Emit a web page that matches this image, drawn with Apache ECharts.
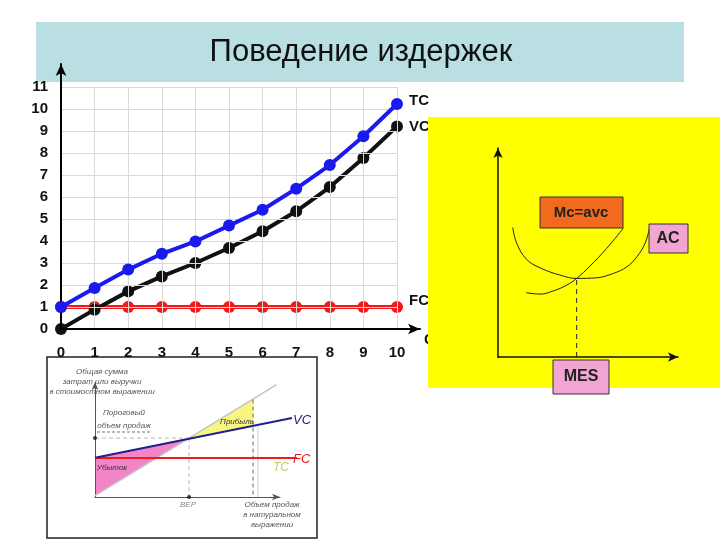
<!DOCTYPE html>
<html>
<head>
<meta charset="utf-8">
<script src="https://cdn.jsdelivr.net/npm/echarts@6/dist/echarts.min.js"></script>
<style>
  html, body { margin: 0; padding: 0; background: #fff; }
  #chart { width: 720px; height: 540px; }
</style>
</head>
<body>
<div id="chart"></div>
<script>
// основной график: объём выпуска и издержки
var qty = [0, 1, 2, 3, 4, 5, 6, 7, 8, 9, 10];
var tcValues = [1, 1.86, 2.7, 3.42, 3.98, 4.7, 5.42, 6.38, 7.45, 8.76, 10.23];
var vcValues = [0, 0.88, 1.71, 2.39, 3.0, 3.68, 4.44, 5.35, 6.45, 7.77, 9.21];
var fcValues = [1, 1, 1, 1, 1, 1, 1, 1, 1, 1, 1];

// кривые AC и MC (жёлтая вставка)
var acCurve = [[0.82, 6.19], [1.04, 5.44], [1.59, 4.67], [2.33, 4.27], [3.44, 3.92], [4.37, 3.76],
  [5.48, 3.79], [6.41, 4.0], [7.15, 4.31], [7.71, 4.79], [8.17, 5.44], [8.41, 6.15]];
var mcCurve = [[1.56, 3.08], [2.33, 3.01], [3.07, 3.16], [3.82, 3.44], [4.37, 3.76],
  [5.11, 4.35], [6.04, 5.2], [6.96, 6.16]];
var mesLine = [[4.37, 0], [4.37, 3.76]];

// точка безубыточности (нижняя вставка)
var bepTc = [[0, 0.11], [8.86, 9.6]];
var bepVc = [[0, 3.35], [9.61, 6.75]];
var bepFc = [[0, 3.33], [9.85, 3.33]];
var lossArea = [[0, 3.35], [0, 0.11], [4.59, 5.04]];
var profitArea = [[4.59, 5.04], [7.71, 8.33], [7.71, 6.09]];
var bepHoriz = [[0, 5.04], [4.59, 5.04]];
var bepVert = [[4.59, 5.04], [4.59, 0]];
var salesVert = [[7.71, 8.33], [7.71, 0]];
var salesVert2 = [[7.95, 6.0], [7.95, 0]];
var bepDots = [[0, 5.04], [4.59, 0]];

function pairs(xs, ys) {
  return xs.map(function (x, i) { return [x, ys[i]]; });
}

function mainLine(name, values, color, z, offset) {
  return {
    name: name,
    type: "line",
    xAxisIndex: 0,
    yAxisIndex: 0,
    z: z,
    data: pairs(qty, values),
    symbol: "circle",
    symbolSize: 12,
    lineStyle: { color: color, width: 4 },
    itemStyle: { color: color, borderWidth: 0 },
    endLabel: {
      show: true,
      formatter: function (p) { return p.seriesName; },
      color: "#111",
      fontWeight: "bold",
      fontSize: 15,
      fontFamily: "Liberation Sans",
      distance: 12,
      offset: offset || [0, 0],
    },
    animation: false,
  };
}

function thinLine(data, axis, color, width, type, z, smooth) {
  return {
    type: "line",
    xAxisIndex: axis,
    yAxisIndex: axis,
    data: data,
    symbol: "none",
    smooth: smooth || false,
    z: z,
    lineStyle: { color: color, width: width, type: type },
    silent: true,
    animation: false,
  };
}

function polygon(points, color) {
  return {
    type: "custom",
    coordinateSystem: "cartesian2d",
    xAxisIndex: 3,
    yAxisIndex: 3,
    data: points,
    z: 3,
    renderItem: function (params, api) {
      if (params.dataIndex !== 0) return null;
      return {
        type: "polygon",
        shape: { points: points.map(function (p) { return api.coord(p); }) },
        style: { fill: color },
      };
    },
    animation: false,
  };
}

function arrowAxis(grid, color, width, size, z) {
  return {
    type: "value",
    gridIndex: grid,
    min: 0,
    max: 10,
    z: z,
    axisLine: { show: true, symbol: ["none", "arrow"], symbolSize: size, lineStyle: { color: color, width: width } },
    axisTick: { show: false },
    axisLabel: { show: false },
    splitLine: { show: false },
  };
}

var smallFont = "italic 8px Liberation Sans";

var chart = echarts.init(document.getElementById("chart"));
chart.setOption({
  backgroundColor: "#fff",
  animation: false,
  grid: [
    { left: 61, top: 87, width: 336, height: 242 },
    { left: 61, top: 64, width: 359, height: 265 },
    { left: 498, top: 148, width: 180, height: 209 },
    { left: 95, top: 380, width: 205, height: 117 },
    { left: 95, top: 382, width: 185, height: 115 },
  ],
  xAxis: [
    {
      type: "value", gridIndex: 0, min: 0, max: 10, interval: 1, z: 5,
      axisLine: { show: false }, axisTick: { show: false },
      splitLine: { show: true, lineStyle: { color: "#d9d9d9", width: 1 } },
      axisLabel: { color: "#111", fontWeight: "bold", fontSize: 15, fontFamily: "Liberation Sans", margin: 16 },
    },
    arrowAxis(1, "#000", 2, [8, 12], 5),
    arrowAxis(2, "#111", 1.5, [7, 10], 60),
    { type: "value", gridIndex: 3, min: 0, max: 10, show: false },
    arrowAxis(4, "#555", 1, [5, 8], 4),
  ],
  yAxis: [
    {
      type: "value", gridIndex: 0, min: 0, max: 11, interval: 1, z: 5,
      axisLine: { show: false }, axisTick: { show: false },
      splitLine: { show: true, lineStyle: { color: "#d9d9d9", width: 1 } },
      axisLabel: { color: "#111", fontWeight: "bold", fontSize: 15, fontFamily: "Liberation Sans", margin: 13 },
    },
    arrowAxis(1, "#000", 2, [8, 12], 5),
    arrowAxis(2, "#111", 1.5, [7, 10], 60),
    { type: "value", gridIndex: 3, min: 0, max: 10, show: false },
    arrowAxis(4, "#555", 1, [5, 8], 4),
  ],
  series: [
    mainLine("FC", fcValues, "#f01a1a", 3, [0, -6]),
    mainLine("VC", vcValues, "#111111", 4),
    mainLine("TC", tcValues, "#1a1af0", 5, [0, -3]),

    thinLine(acCurve, 2, "#222", 1, "solid", 60, 0.4),
    thinLine(mcCurve, 2, "#222", 1, "solid", 60, 0.4),
    thinLine(mesLine, 2, "#222", 1, [5, 4], 60),

    polygon(lossArea, "#f285c8"),
    polygon(profitArea, "#f6f680"),
    thinLine(bepTc, 3, "#c4c4c4", 1.5, "solid", 4),
    thinLine(bepFc, 3, "#ee1c1c", 2, "solid", 5),
    thinLine(bepVc, 3, "#20208c", 2, "solid", 6),
    thinLine(bepHoriz, 3, "#bbb", 1, [4, 3], 4),
    thinLine(bepVert, 3, "#bbb", 1, [4, 3], 4),
    thinLine(salesVert, 3, "#666", 1, [4, 3], 4),
    thinLine(salesVert2, 3, "#ccc", 1, "solid", 4),
    {
      type: "scatter", xAxisIndex: 3, yAxisIndex: 3, data: bepDots,
      symbolSize: 4, itemStyle: { color: "#111" }, z: 7, animation: false,
    },
  ],
  graphic: [
    // заголовок
    { type: "rect", z: 0, shape: { x: 36, y: 22, width: 648, height: 60 }, style: { fill: "#b9dfe3" } },
    {
      type: "text", z: 1, x: 361, y: 52,
      style: { text: "Поведение издержек", font: "31px Liberation Sans", fill: "#111", align: "center", verticalAlign: "middle" },
    },
    {
      type: "text", z: 10, x: 424, y: 340,
      style: { text: "Q", font: "bold 15px Liberation Sans", fill: "#111", verticalAlign: "middle" },
    },
    // жёлтая вставка
    { type: "rect", z: 50, shape: { x: 428, y: 117, width: 292, height: 271 }, style: { fill: "#ffff00" } },
    {
      type: "rect", z: 70, shape: { x: 540, y: 197, width: 83, height: 31 },
      style: { fill: "#f26a1e", stroke: "#333", lineWidth: 1 },
    },
    {
      type: "text", z: 71, x: 581, y: 213,
      style: { text: "Mc=avc", font: "bold 15px Liberation Sans", fill: "#222", align: "center", verticalAlign: "middle" },
    },
    {
      type: "rect", z: 70, shape: { x: 649, y: 224, width: 39, height: 29 },
      style: { fill: "#f2a4d2", stroke: "#333", lineWidth: 1 },
    },
    {
      type: "text", z: 71, x: 668, y: 239,
      style: { text: "AC", font: "bold 16px Liberation Sans", fill: "#222", align: "center", verticalAlign: "middle" },
    },
    {
      type: "rect", z: 70, shape: { x: 553, y: 360, width: 56, height: 34 },
      style: { fill: "#f2a4d2", stroke: "#333", lineWidth: 1 },
    },
    {
      type: "text", z: 71, x: 581, y: 377,
      style: { text: "MES", font: "bold 16px Liberation Sans", fill: "#222", align: "center", verticalAlign: "middle" },
    },
    // нижняя вставка
    {
      type: "rect", z: 0, shape: { x: 47, y: 357, width: 270, height: 181 },
      style: { fill: "#fff", stroke: "#222", lineWidth: 1.5 },
    },
    {
      type: "text", z: 8, x: 102, y: 382,
      style: {
        text: "Общая сумма\nзатрат или выручки\nв стоимостном выражении",
        font: smallFont, lineHeight: 10, fill: "#555", align: "center", verticalAlign: "middle",
      },
    },
    {
      type: "text", z: 8, x: 124, y: 419,
      style: { text: "Пороговый\nобъем продаж", font: smallFont, lineHeight: 13, fill: "#555", align: "center", verticalAlign: "middle" },
    },
    {
      type: "line", z: 8, shape: { x1: 97, y1: 432, x2: 152, y2: 432 },
      style: { stroke: "#777", lineWidth: 1, lineDash: [3, 2] },
    },
    {
      type: "text", z: 8, x: 112, y: 468,
      style: { text: "Убыток", font: smallFont, fill: "#333", align: "center", verticalAlign: "middle" },
    },
    {
      type: "text", z: 8, x: 237, y: 422,
      style: { text: "Прибыль", font: smallFont, fill: "#333", align: "center", verticalAlign: "middle" },
    },
    {
      type: "text", z: 8, x: 293, y: 420,
      style: { text: "VC", font: "italic 13px Liberation Sans", fill: "#20208c", verticalAlign: "middle" },
    },
    {
      type: "text", z: 8, x: 293, y: 459,
      style: { text: "FC", font: "italic 13px Liberation Sans", fill: "#ee1c1c", verticalAlign: "middle" },
    },
    {
      type: "text", z: 8, x: 273, y: 468,
      style: { text: "TC", font: "italic 12px Liberation Sans", fill: "#c9c95a", verticalAlign: "middle" },
    },
    {
      type: "text", z: 8, x: 188, y: 505,
      style: { text: "BEP", font: smallFont, fill: "#888", align: "center", verticalAlign: "middle" },
    },
    {
      type: "text", z: 8, x: 272, y: 515,
      style: {
        text: "Объем продаж\nв натуральном\nвыражении",
        font: smallFont, lineHeight: 10, fill: "#555", align: "center", verticalAlign: "middle",
      },
    },
  ],
});
</script>
</body>
</html>
